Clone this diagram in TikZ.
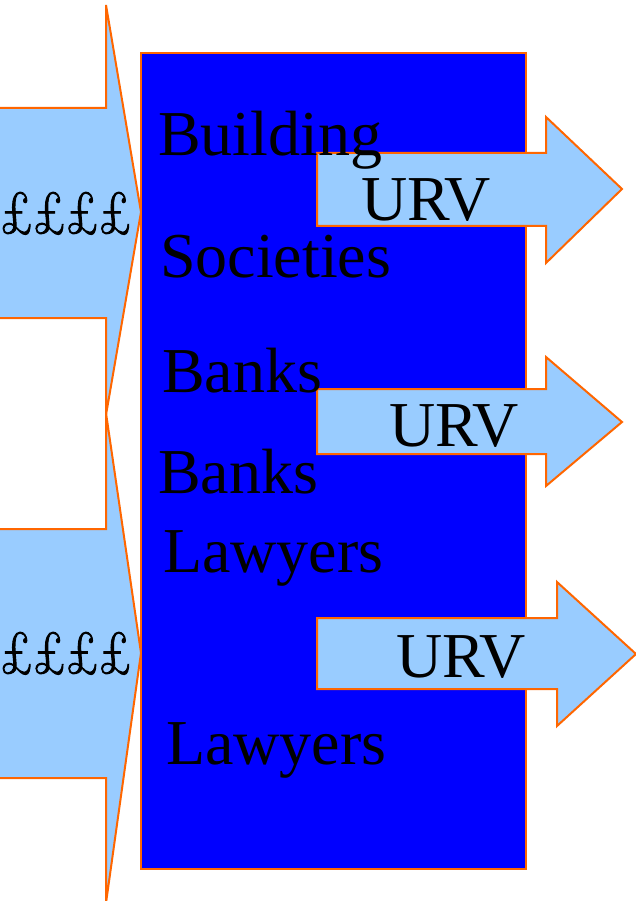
\documentclass[tikz,border=0pt]{standalone}
\usepackage{fontspec}
\setmainfont{Liberation Serif}
\newfontfamily\lmroman[FakeBold=1.6,FakeStretch=0.79]{Latin Modern Roman}
\definecolor{paleblue}{HTML}{99CCFF}
\definecolor{edgeorange}{HTML}{FF6600}
\definecolor{boxblue}{HTML}{0000FF}
\begin{document}
\begin{tikzpicture}[x=1pt,y=-1pt,
  arrowshape/.style={fill=paleblue,draw=edgeorange,line width=2pt,line join=miter},
  bigtext/.style={anchor=base west,inner sep=0pt,font=\fontsize{64}{64}\selectfont},
  poundtext/.style={anchor=base west,inner sep=0pt,font=\lmroman\fontsize{60}{60}\selectfont}]
\useasboundingbox (0,0) rectangle (636,901);
% incoming money arrows on the left
\draw[arrowshape] (-5,108) -- (106,108) -- (106,5) -- (141,212) -- (106,415) -- (106,318) -- (-5,318) -- cycle;
\draw[arrowshape] (-5,529) -- (106,529) -- (106,413) -- (141,653) -- (106,903) -- (106,778) -- (-5,778) -- cycle;
% institutions box
\draw[fill=boxblue,draw=edgeorange,line width=2pt] (141,53) rectangle (526,869);
% outgoing URV arrows
\draw[arrowshape] (317,153) -- (546,153) -- (546,117) -- (622,189) -- (546,263) -- (546,226) -- (317,226) -- cycle;
\draw[arrowshape] (317,389) -- (546,389) -- (546,357) -- (622,422) -- (546,486) -- (546,454) -- (317,454) -- cycle;
\draw[arrowshape] (317,618) -- (557,618) -- (557,582) -- (636,654) -- (557,726) -- (557,689) -- (317,689) -- cycle;
% labels
\node[poundtext] (p1) at (0,233) {££££};
\node[poundtext] (p2) at (0,673) {££££};
\node[bigtext] (t1) at (158,156) {Building};
\node[bigtext] (t2) at (160,277) {Societies};
\node[bigtext] (t3) at (162,392) {Banks};
\node[bigtext] (t4) at (158,493) {Banks};
\node[bigtext] (t5) at (163,572) {Lawyers};
\node[bigtext] (t6) at (166,764) {Lawyers};
\node[bigtext] (u1) at (361,221) {URV};
\node[bigtext] (u2) at (389,446) {URV};
\node[bigtext] (u3) at (396,677) {URV};
\end{tikzpicture}
\end{document}
